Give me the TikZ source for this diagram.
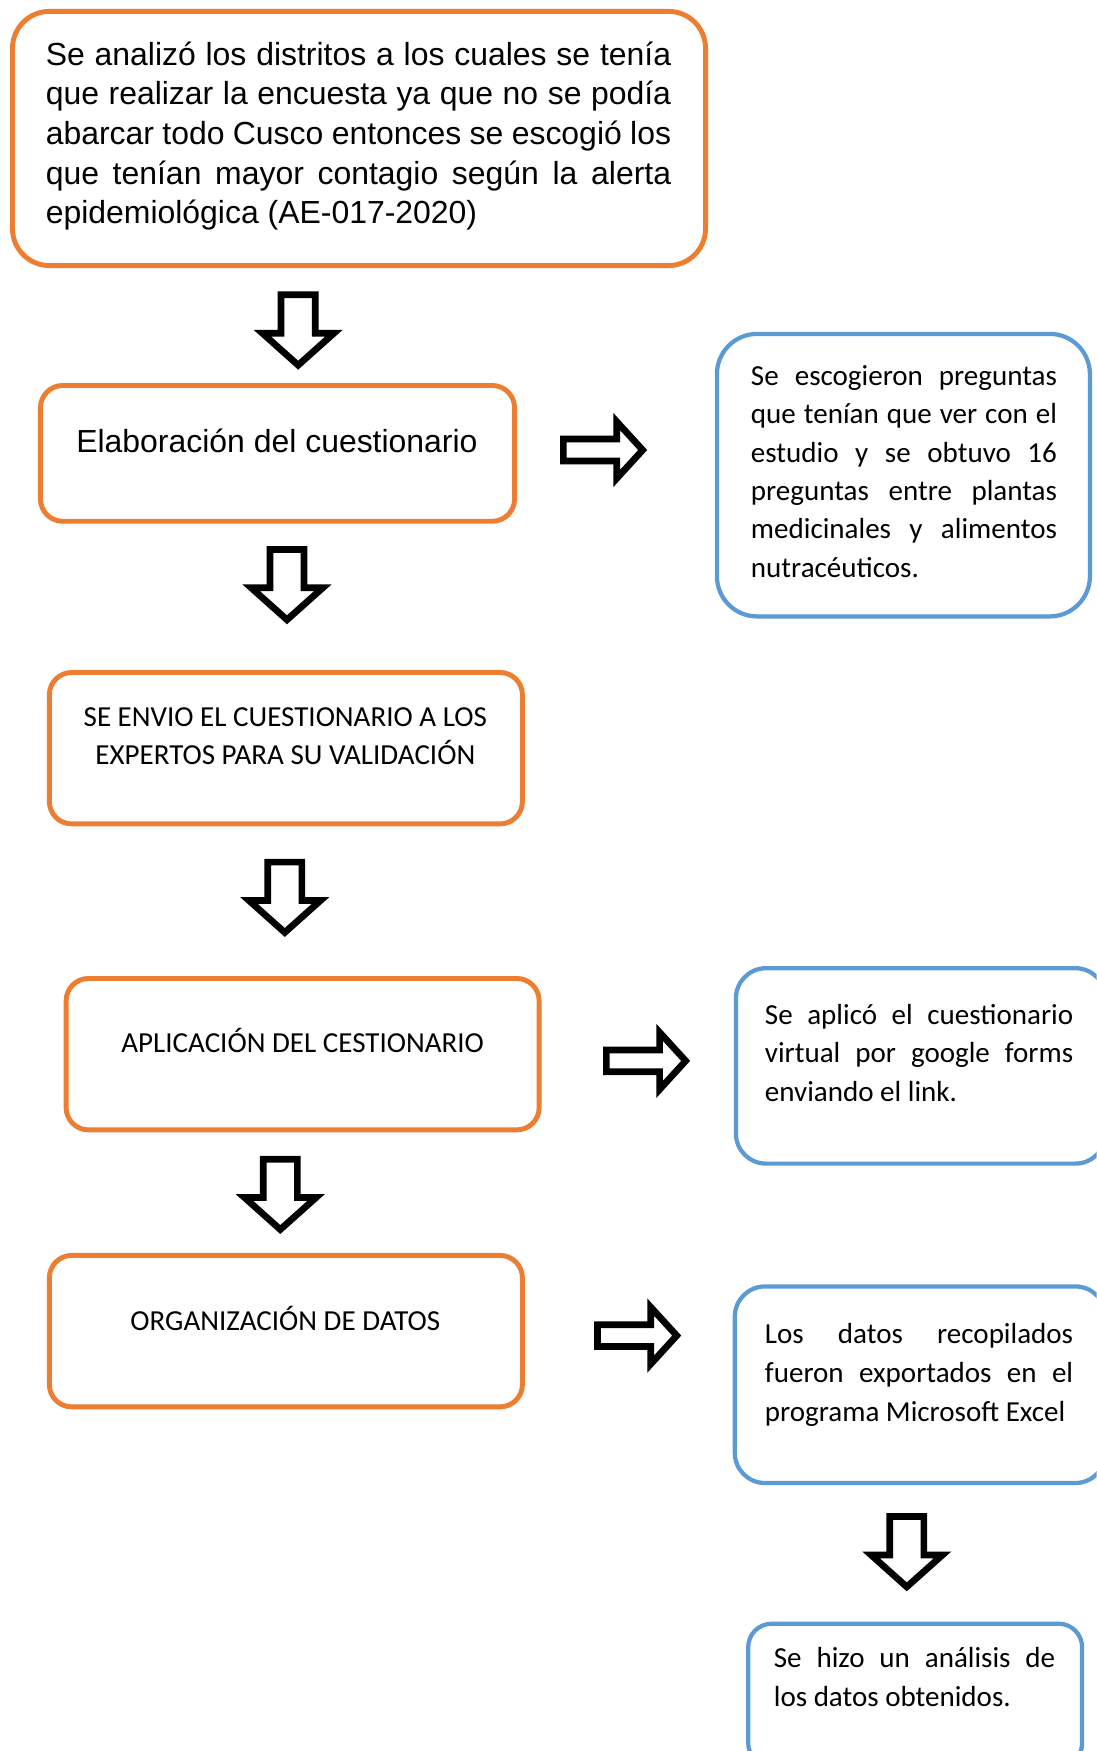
\documentclass[tikz,border=0pt]{standalone}
\usepackage{fontspec}
\setmainfont{Carlito}
\newfontfamily\arialf{Liberation Sans}
\newcommand\jl[1]{\hbox to \linewidth{#1}}
\newcommand\lastl[1]{\hbox{#1}}
\definecolor{orng}{HTML}{ED7D31}
\definecolor{blu}{HTML}{5B9BD5}
\begin{document}
\begin{tikzpicture}[x=1pt,y=-1pt,
  obox/.style={draw=orng, line width=4.4pt, rounded corners=20pt, inner sep=0pt, outer sep=0pt},
  bbox/.style={draw=blu, line width=3.8pt, inner sep=0pt, outer sep=0pt},
  txt/.style={inner sep=0pt, outer sep=0pt},
  arrowline/.style={draw=black, line width=6pt, fill=white, line join=miter},
  downarr/.pic={\path[arrowline] (-15.3,0) -- (15.3,0) -- (15.3,34.4) -- (32,34.4) -- (0,63) -- (-32,34.4) -- (-15.3,34.4) -- cycle;},
  rightarr/.pic={\path[arrowline] (0,-9.8) -- (47.7,-9.8) -- (47.7,-25.5) -- (71,0) -- (47.7,25.5) -- (47.7,9.8) -- (0,9.8) -- cycle;}
]
\path[use as bounding box] (0,0) rectangle (982,1568);
\clip (0,0) rectangle (982,1568);

% orange boxes
\node[obox, rounded corners=33pt, minimum width=620.6pt, minimum height=227.6pt] (b0) at (321.5,124) {};
\node[obox, minimum width=424.6pt, minimum height=121.6pt] (b1) at (248.5,406) {};
\node[obox, minimum width=423.6pt, minimum height=135.6pt] (b2) at (256,670) {};
\node[obox, minimum width=423.6pt, minimum height=135.6pt] (b3) at (271,944) {};
\node[obox, minimum width=423.6pt, minimum height=135.6pt] (b4) at (256,1192) {};

% blue boxes
\node[bbox, rounded corners=36pt, minimum width=334pt, minimum height=253pt] (c1) at (809,425.5) {};
\node[bbox, rounded corners=27pt, minimum width=331pt, minimum height=175pt] (c2) at (824.5,954.5) {};
\node[bbox, rounded corners=27pt, minimum width=332pt, minimum height=176pt] (c3) at (824,1240) {};
\node[bbox, rounded corners=21pt, minimum width=299pt, minimum height=128pt] (c4) at (819.5,1518) {};

% texts
\node[txt, anchor=base west] (t0) at (41,58.5) {\parbox[t]{560pt}{\arialf\fontsize{28.6pt}{35.5pt}\selectfont
  \jl{Se analizó los distritos a los cuales se tenía}
  \jl{que realizar la encuesta ya que no se podía}
  \jl{abarcar todo Cusco entonces se escogió los}
  \jl{que tenían mayor contagio según la alerta}
  \lastl{epidemiológica (AE-017-2020)}}};
\node[txt, anchor=base] (t1) at (248,405.5) {\arialf\fontsize{28.6pt}{35.5pt}\selectfont Elaboración del cuestionario};
\node[txt, anchor=base] (t2) at (255.5,650.5) {\parbox[t]{420pt}{\centering\fontsize{26pt}{34.5pt}\selectfont SE ENVIO EL CUESTIONARIO A LOS\\EXPERTOS PARA SU VALIDACIÓN}};
\node[txt, anchor=base] (t3) at (271,942.5) {\fontsize{26pt}{34.5pt}\selectfont APLICACIÓN DEL CESTIONARIO};
\node[txt, anchor=base] (t4) at (255.5,1191) {\fontsize{26pt}{34.5pt}\selectfont ORGANIZACIÓN DE DATOS};

\node[txt, anchor=base west] (u1) at (672.5,345) {\parbox[t]{274pt}{\fontsize{26pt}{34.4pt}\selectfont
  \jl{Se escogieron preguntas}
  \jl{que tenían que ver con el}
  \jl{estudio y se obtuvo 16}
  \jl{preguntas entre plantas}
  \jl{medicinales y alimentos}
  \lastl{nutracéuticos.}}};
\node[txt, anchor=base west] (u2) at (685,917) {\parbox[t]{276pt}{\fontsize{26pt}{34.8pt}\selectfont
  \jl{Se aplicó el cuestionario}
  \jl{virtual por google forms}
  \lastl{enviando el link.}}};
\node[txt, anchor=base west] (u3) at (685,1203) {\parbox[t]{276pt}{\fontsize{26pt}{34.8pt}\selectfont
  \jl{Los datos recopilados}
  \jl{fueron exportados en el}
  \lastl{programa Microsoft Excel}}};
\node[txt, anchor=base west] (u4) at (693,1493) {\parbox[t]{252pt}{\fontsize{26pt}{34.8pt}\selectfont
  \jl{Se hizo un análisis de}
  \lastl{los datos obtenidos.}}};

% block arrows
\pic (a1) at (267,264) {downarr};
\pic (a2) at (257,492) {downarr};
\pic (a3) at (255,772) {downarr};
\pic (a4) at (251,1038) {downarr};
\pic (a5) at (812,1358) {downarr};
\pic (r1) at (504.5,403) {rightarr};
\pic (r2) at (543,950) {rightarr};
\pic (r3) at (535,1196) {rightarr};
\end{tikzpicture}
\end{document}
